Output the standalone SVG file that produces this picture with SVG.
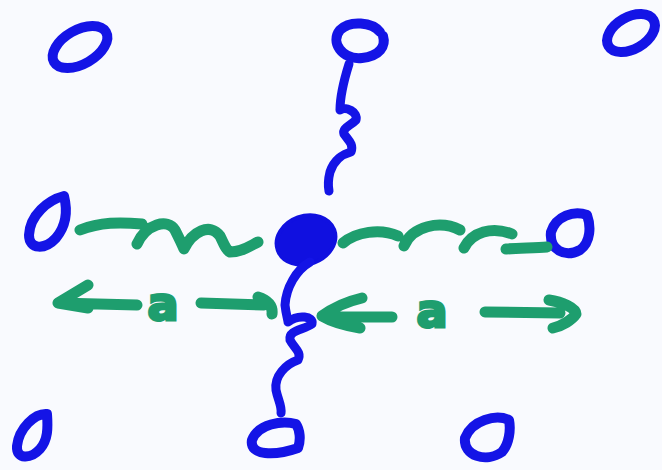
<svg xmlns="http://www.w3.org/2000/svg" width="662" height="470" viewBox="0 0 662 470">
<style>
.bg{fill:#f9fafe}
.ring{fill:none;stroke:#1414e6;stroke-width:10;stroke-linecap:round;stroke-linejoin:round}
.blob{fill:#1010e0;stroke:#1010e0;stroke-width:4}
.stem{fill:none;stroke:#1414e6;stroke-width:9;stroke-linecap:round;stroke-linejoin:round}
.spring{fill:none;stroke:#1e9e6e;stroke-width:11;stroke-linecap:round;stroke-linejoin:round}
.lbl{font-family:"DejaVu Sans",sans-serif;font-weight:bold;font-size:46px;fill:#1e9e6e;stroke:#1e9e6e;stroke-width:3;text-anchor:middle}
</style>
<rect class="bg" x="0" y="0" width="662" height="470"/>

<g id="atom-top-left"><ellipse class="ring" cx="80" cy="47" rx="30" ry="17" transform="rotate(-30 80 47)"/></g>
<g id="atom-top-center"><path class="ring" d="M380,32 C372,22 350,20 340,30 C330,42 342,60 362,58 C380,56 386,46 383,36"/></g>
<g id="atom-top-right"><ellipse class="ring" cx="631" cy="33" rx="26" ry="16" transform="rotate(-30 631 33)"/></g>
<g id="atom-left"><path class="ring" d="M64,196 C48,200 30,215 29,235 C29,250 45,250 56,238 C66,226 68,212 64,196 Z"/></g>
<g id="atom-center"><ellipse class="blob" cx="306" cy="240" rx="30" ry="24" transform="rotate(-20 306 240)"/></g>
<g id="atom-right"><path class="ring" d="M587,215 C574,210 556,216 551,232 C549,250 565,258 580,250 C591,242 591,226 587,215 Z"/></g>
<g id="atom-bottom-left"><path class="ring" d="M47,414 C35,413 19,428 17,446 C16,460 31,459 40,449 C48,440 48,428 47,414 Z"/></g>
<g id="atom-bottom-center"><path class="ring" d="M296,424 C282,420 258,424 252,440 C249,456 275,456 298,448 C301,440 300,430 296,424 Z"/></g>
<g id="atom-bottom-right"><path class="ring" d="M509,420 C496,414 472,420 465,438 C463,456 486,463 502,452 C509,444 511,430 509,420 Z"/></g>

<g id="connectors">
  <path class="stem" d="M349,64 C344,80 340,96 340,110 C346,106 358,112 356,120 C350,126 342,128 344,134 C348,140 354,144 351,152 C343,154 334,160 330,172 C328,180 328,186 329,191"/>
  <path class="stem" d="M310,262 C296,270 286,288 285,305 C286,314 288,320 288,322 C298,314 314,316 312,324 C304,330 288,330 290,340 C294,348 302,352 298,360 C286,364 274,376 276,390 C278,400 282,406 281,413"/>
  <path class="spring" d="M80,230 C100,222 120,222 142,224 M137,244 C146,224 168,218 175,230 C178,236 182,244 184,249 C192,232 210,222 220,236 C224,244 226,250 230,252 C242,252 250,246 258,242"/>
  <path class="spring" d="M343,243 C356,232 380,228 398,236 M404,246 C412,226 440,220 460,230 M464,248 C472,232 492,226 512,234 M506,249 C520,248 536,248 547,247"/>
</g>

<g id="dimension-left">
  <path class="spring" d="M88,285 L58,303 L88,308 M58,303 L137,305 M201,303 L264,305 M258,297 C268,300 273,306 272,314"/>
  <text class="lbl" x="163" y="320">a</text>
</g>
<g id="dimension-right">
  <path class="spring" d="M362,298 C345,302 330,310 322,316 C332,322 348,326 360,328 M326,317 L392,317 M485,312 L560,313 M549,300 C562,302 576,308 576,314 C572,320 562,326 553,328"/>
  <text class="lbl" x="432" y="327">a</text>
</g>
</svg>
